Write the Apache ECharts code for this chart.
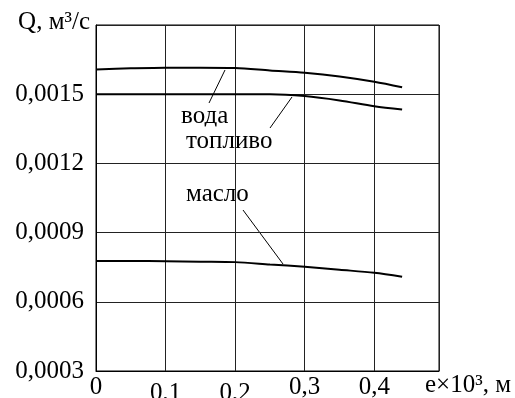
<!DOCTYPE html>
<html>
<head>
<meta charset="utf-8">
<script src="https://cdn.jsdelivr.net/npm/echarts@6/dist/echarts.min.js"></script>
<style>
    html, body { margin: 0; padding: 0; background: #fff; }
    #chart { width: 515px; height: 398px; }
</style>
</head>
<body>
<div id="chart"></div>
<script>
// значения
const eValues = [0, 0.05, 0.1, 0.15, 0.2, 0.25, 0.3, 0.35, 0.4, 0.44];
const voda = [0.001607, 0.001612, 0.001615, 0.001615, 0.001614, 0.001603, 0.001593, 0.001577, 0.001554, 0.00153];
const toplivo = [0.0015, 0.0015, 0.0015, 0.0015, 0.0015, 0.0015, 0.001492, 0.001473, 0.001448, 0.001434];
const maslo = [0.000777, 0.000777, 0.000776, 0.000774, 0.000772, 0.000762, 0.000752, 0.000739, 0.000726, 0.000709];
const lowXTicks = [0.1, 0.2];

const font = 'Liberation Serif';

function pairs(ys) {
    return eValues.map((x, i) => [x, ys[i]]);
}

function curve(name, ys) {
    return {
        name: name,
        type: 'line',
        smooth: 0.3,
        showSymbol: false,
        silent: true,
        lineStyle: { color: '#000', width: 2 },
        data: pairs(ys)
    };
}

// подпись с белым фоном, перекрывает сетку
function note(text, x, y) {
    return {
        type: 'text',
        x: x,
        y: y,
        style: {
            text: text,
            font: '25px "' + font + '"',
            fill: '#000',
            align: 'left',
            verticalAlign: 'middle',
            backgroundColor: '#fff',
            padding: [2, 5]
        }
    };
}

function leader(x1, y1, x2, y2) {
    return {
        type: 'line',
        shape: { x1: x1, y1: y1, x2: x2, y2: y2 },
        style: { stroke: '#000', lineWidth: 1 }
    };
}

const myChart = echarts.init(document.getElementById('chart'));
const option = {
    animation: false,
    backgroundColor: '#fff',
    grid: {
        left: 96,
        top: 25,
        width: 343,
        height: 346,
        outerBoundsMode: 'none',
        show: true,
        borderColor: '#000',
        borderWidth: 1
    },
    xAxis: {
        type: 'value',
        min: 0,
        max: 0.493,
        interval: 0.1,
        name: 'e×10³, м',
        nameLocation: 'end',
        nameGap: -14,
        nameTextStyle: {
            fontFamily: font,
            fontSize: 25,
            color: '#000',
            align: 'left',
            verticalAlign: 'top',
            lineHeight: 25,
            padding: [2, 0, 0, 0]
        },
        axisLine: { lineStyle: { color: '#000', width: 1 } },
        axisTick: { show: false },
        splitLine: { show: true, lineStyle: { color: '#222', width: 1 } },
        axisLabel: {
            showMaxLabel: false,
            margin: 4,
            fontFamily: font,
            fontSize: 25,
            color: '#000',
            lineHeight: 25,
            formatter: function (v) {
                if (v === 0) return '0';
                const s = v.toFixed(1).replace('.', ',');
                return lowXTicks.some(t => Math.abs(t - v) < 1e-9) ? '{lo|' + s + '}' : s;
            },
            rich: {
                lo: { fontFamily: font, fontSize: 25, color: '#000', padding: [12, 0, 0, 0] }
            }
        }
    },
    yAxis: {
        type: 'value',
        min: 0.0003,
        max: 0.0018,
        interval: 0.0003,
        name: 'Q, м³/с',
        nameLocation: 'end',
        nameGap: 3,
        nameTextStyle: {
            fontFamily: font,
            fontSize: 25,
            color: '#000',
            align: 'right',
            verticalAlign: 'middle',
            padding: [0, 6, 0, 0]
        },
        axisLine: { show: true, lineStyle: { color: '#000', width: 1 } },
        axisTick: { show: false },
        splitLine: { show: true, lineStyle: { color: '#222', width: 1 } },
        axisLabel: {
            showMaxLabel: false,
            margin: 12,
            fontFamily: font,
            fontSize: 25,
            color: '#000',
            formatter: function (v) {
                return v.toFixed(4).replace('.', ',');
            }
        }
    },
    series: [
        curve('вода', voda),
        curve('топливо', toplivo),
        curve('масло', maslo)
    ],
    graphic: [
        note('вода', 176, 116),
        note('топливо', 181, 141),
        note('масло', 181, 194),
        leader(225, 70, 209, 103),
        leader(292, 97, 270, 128),
        leader(243, 210, 283, 264)
    ]
};
myChart.setOption(option);
</script>
</body>
</html>
